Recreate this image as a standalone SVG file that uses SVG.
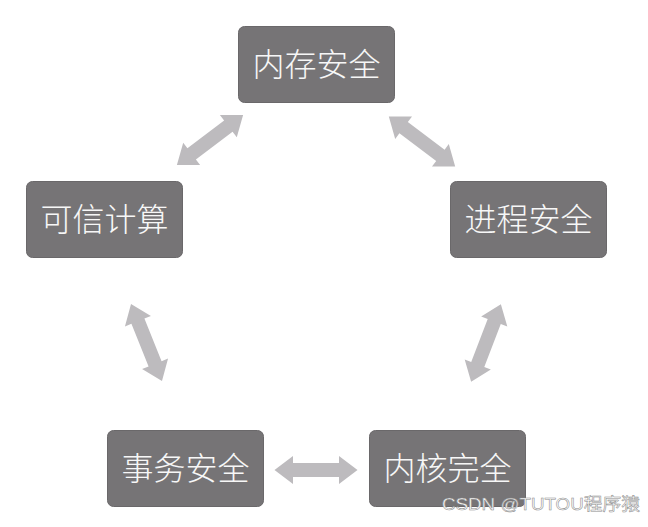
<svg xmlns="http://www.w3.org/2000/svg" width="648" height="527" viewBox="0 0 648 527">
<style>
.node rect{fill:#767476;stroke:#6a686a;stroke-width:1}
.node text{fill:#f7f7f7;font-family:"Noto Sans CJK SC","Noto Sans CJK JP",sans-serif;font-size:32px;font-weight:300;text-anchor:middle}
.arrow{fill:#bdbbbe}
.wm{font-family:"Liberation Sans","Noto Sans CJK SC",sans-serif;font-size:17px;fill:#ffffff;stroke:#8a8a8a;stroke-width:0.5}
</style>
<defs>
<path id="darr" d="M -41.5 0 L -23 -14 L -23 -7 L 23 -7 L 23 -14 L 41.5 0 L 23 14 L 23 7 L -23 7 L -23 14 Z"/>
</defs>
<rect width="648" height="527" fill="#ffffff"/>
<g id="connectors">
<use href="#darr" class="arrow" transform="translate(210,140) rotate(-37.1)"/>
<use href="#darr" class="arrow" transform="translate(422,141.5) rotate(36.9)"/>
<use href="#darr" class="arrow" transform="translate(146.5,342.5) rotate(68.1)"/>
<use href="#darr" class="arrow" transform="translate(486,343) rotate(111)"/>
<use href="#darr" class="arrow" transform="translate(316,470)"/>
</g>
<g id="node-memory" class="node">
<rect x="238.5" y="26.5" width="156" height="76" rx="6"/>
<text x="316.5" y="76">内存安全</text>
</g>
<g id="node-trusted" class="node">
<rect x="26.5" y="181.5" width="156" height="76" rx="6"/>
<text x="104.5" y="231">可信计算</text>
</g>
<g id="node-process" class="node">
<rect x="450.5" y="181.5" width="156" height="76" rx="6"/>
<text x="528.5" y="231">进程安全</text>
</g>
<g id="node-transaction" class="node">
<rect x="107.5" y="430.5" width="156" height="76" rx="6"/>
<text x="185.5" y="480">事务安全</text>
</g>
<g id="node-kernel" class="node">
<rect x="369.5" y="430.5" width="156" height="76" rx="6"/>
<text x="447.5" y="480">内核完全</text>
</g>
<text class="wm" x="442" y="510" textLength="198" lengthAdjust="spacingAndGlyphs">CSDN @TUTOU程序猿</text>
</svg>
